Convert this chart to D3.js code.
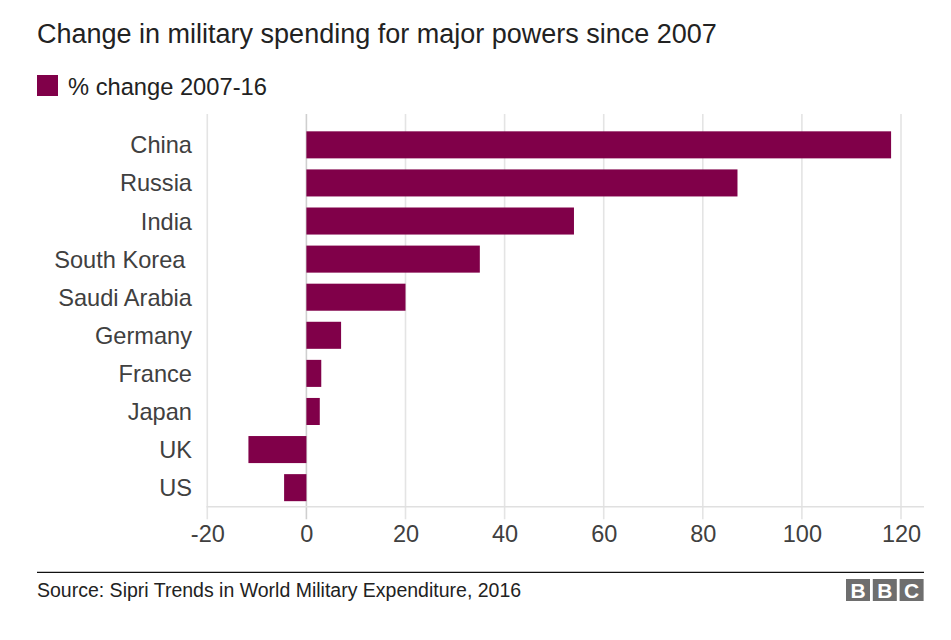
<!DOCTYPE html>
<html>
<head>
<meta charset="utf-8">
<script src="https://cdn.jsdelivr.net/npm/d3@7"></script>
<style>
  html, body { margin: 0; padding: 0; background: #fff; }
  svg { display: block; font-family: "Liberation Sans", Arial, Helvetica, sans-serif; }
</style>
</head>
<body>
<svg id="chart" width="951" height="640"></svg>
<script>
const categories = ["China", "Russia", "India", "South Korea ", "Saudi Arabia", "Germany", "France", "Japan", "UK", "US"];
const values = [118, 87, 54, 35, 20, 7, 3, 2.7, -11.7, -4.5];
const tickValues = [-20, 0, 20, 40, 60, 80, 100, 120];
const seriesName = "% change 2007-16";
const title = "Change in military spending for major powers since 2007";
const source = "Source: Sipri Trends in World Military Expenditure, 2016";

const barColor = "#800049";
const svg = d3.select("#chart");

// Title
svg.append("text").attr("x", 37).attr("y", 42.5)
  .attr("font-size", 27).attr("fill", "#222").text(title);

// Legend
svg.append("rect").attr("x", 37).attr("y", 75).attr("width", 21).attr("height", 21).attr("fill", barColor);
svg.append("text").attr("x", 68).attr("y", 95)
  .attr("font-size", 23.7).attr("fill", "#222").text(seriesName);

// Scales
const x = d3.scaleLinear().domain([-20, 120]).range([207.3, 901]);
const y = d3.scaleBand().domain(categories).range([125.8, 506.7]).paddingInner(0.29).paddingOuter(0.145);

const gridTop = 114, baseY = 506.7;

// Gridlines
svg.append("g").selectAll("line").data(tickValues).join("line")
  .attr("x1", d => x(d)).attr("x2", d => x(d))
  .attr("y1", gridTop).attr("y2", baseY + 12.5)
  .attr("stroke", d => d === 0 ? "#cfcfcf" : "#e4e4e4")
  .attr("stroke-width", 1.6);

// Baseline
svg.append("line").attr("x1", 206.5).attr("x2", 924).attr("y1", baseY).attr("y2", baseY)
  .attr("stroke", "#e0e0e0").attr("stroke-width", 1.6);

// X axis labels via d3 axis
const xAxis = svg.append("g").attr("transform", `translate(0,${baseY})`)
  .call(d3.axisBottom(x).tickValues(tickValues).tickSize(0).tickPadding(0).tickFormat(d => String(d)));
xAxis.select(".domain").remove();
xAxis.selectAll("text")
  .attr("y", 35).attr("dy", 0)
  .attr("font-size", 23.5).attr("fill", "#404040")
  .attr("font-family", "'Liberation Sans', Arial, sans-serif");

// Y labels via d3 axis
const yAxis = svg.append("g").attr("transform", "translate(192,0)")
  .call(d3.axisLeft(y).tickSize(0).tickPadding(0));
yAxis.select(".domain").remove();
yAxis.selectAll("text")
  .attr("x", 0).attr("dy", "0.36em")
  .attr("font-size", 23.6).attr("fill", "#404040")
  .attr("font-family", "'Liberation Sans', Arial, sans-serif")
  .style("white-space", "pre").attr("xml:space", "preserve");

// Bars
svg.append("g").selectAll("rect").data(categories.map((c, i) => ({c, v: values[i]}))).join("rect")
  .attr("x", d => x(Math.min(0, d.v)))
  .attr("width", d => Math.abs(x(d.v) - x(0)))
  .attr("y", d => y(d.c))
  .attr("height", y.bandwidth())
  .attr("fill", barColor);

// Footer rule
svg.append("line").attr("x1", 37).attr("x2", 924).attr("y1", 572.3).attr("y2", 572.3)
  .attr("stroke", "#111").attr("stroke-width", 1.3);

svg.append("text").attr("x", 37).attr("y", 596.5)
  .attr("font-size", 19.5).attr("fill", "#222").text(source);

// BBC logo
const logo = svg.append("g");
["B", "B", "C"].forEach((l, i) => {
  const bx = 846 + i * 26.8;
  logo.append("rect").attr("x", bx).attr("y", 579).attr("width", 24).attr("height", 22).attr("fill", "#6e6e6e");
  logo.append("text").attr("x", bx + 12).attr("y", 598).attr("text-anchor", "middle")
    .attr("font-size", 21).attr("font-weight", "bold").attr("fill", "#fff").text(l);
});
</script>
</body>
</html>
